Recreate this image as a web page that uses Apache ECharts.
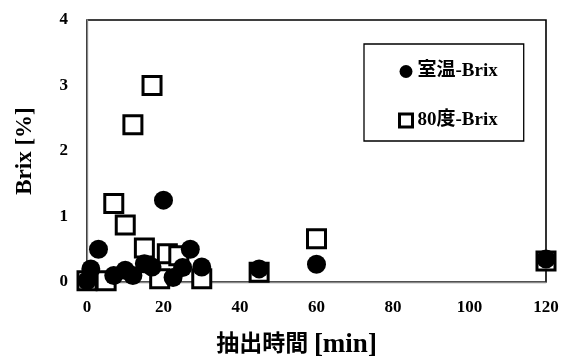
<!DOCTYPE html>
<html><head><meta charset="utf-8">
<script src="https://cdn.jsdelivr.net/npm/echarts@6/dist/echarts.min.js"></script>
<style>html,body{margin:0;padding:0;background:#fff}#c{width:562px;height:358px}</style>
</head><body><div id="c"></div>
<script>
const xTicks = [0, 20, 40, 60, 80, 100, 120];
const yTicks = [0, 1, 2, 3, 4];
const roomTime = [0, 1, 3, 7, 10, 12, 15, 17, 20, 22.5, 25, 27, 30, 45, 60, 120];
const roomBrix = [0.02, 0.2, 0.5, 0.1, 0.18, 0.1, 0.28, 0.23, 1.25, 0.07, 0.22, 0.5, 0.23, 0.2, 0.27, 0.35];
const hotTime = [0, 5, 7, 10, 12, 15, 17, 19, 21, 24, 30, 45, 60, 120];
const hotBrix = [0.02, 0.02, 1.2, 0.87, 2.4, 0.52, 3.0, 0.05, 0.43, 0.4, 0.05, 0.15, 0.66, 0.32];
const seriesNames = ['室温-Brix', '80度-Brix'];

const serif = '"Liberation Serif", "Times New Roman", "Noto Sans CJK JP", serif';
const pairs = (xs, ys) => xs.map((x, i) => [x, ys[i]]);

const chart = echarts.init(document.getElementById('c'), null, {renderer: 'canvas'});
chart.setOption({
  animation: false,
  textStyle: {fontFamily: serif},
  grid: {left: 87, right: 16, top: 20, bottom: 76, outerBoundsMode: 'none', containLabel: false,
         show: true, borderColor: '#000', borderWidth: 1.6, backgroundColor: 'transparent'},
  legend: {
    orient: 'vertical',
    left: 364, top: 44,
    width: 162,
    padding: [18, 26, 11, 34],
    itemGap: 30,
    itemWidth: 13, itemHeight: 13,
    borderColor: '#000', borderWidth: 1.3,
    textStyle: {fontFamily: serif, fontWeight: 'bold', fontSize: 19, color: '#000'},
    data: [
      {name: seriesNames[0], icon: 'circle', itemStyle: {color: '#000', borderWidth: 0}},
      {name: seriesNames[1], icon: 'rect', itemStyle: {color: '#fff', borderColor: '#000', borderWidth: 3}}
    ]
  },
  xAxis: {
    type: 'value', min: 0, max: 120, interval: 20,
    name: '{a|抽出時間} {b|[min]}', nameLocation: 'middle', nameGap: 50,
    nameTextStyle: {
      fontFamily: serif, fontWeight: 'bold', fontSize: 23, color: '#000', padding: [0, 40, 0, 0],
      rich: {
        a: {fontFamily: serif, fontWeight: 'bold', fontSize: 23, color: '#000'},
        b: {fontFamily: serif, fontWeight: 'bold', fontSize: 27, color: '#000'}
      }
    },
    axisLine: {show: true, onZero: false, lineStyle: {color: '#888', width: 1.3}},
    axisTick: {show: false}, splitLine: {show: false},
    axisLabel: {margin: 17, fontFamily: serif, fontWeight: 'bold', fontSize: 17, color: '#000'}
  },
  yAxis: {
    type: 'value', min: 0, max: 4, interval: 1,
    name: 'Brix [%]', nameLocation: 'middle', nameGap: 50,
    nameTextStyle: {fontFamily: serif, fontWeight: 'bold', fontSize: 23, color: '#000'},
    axisLine: {show: true, onZero: false, lineStyle: {color: '#888', width: 1.3}},
    axisTick: {show: false}, splitLine: {show: false},
    axisLabel: {margin: 19, fontFamily: serif, fontWeight: 'bold', fontSize: 17, color: '#000'}
  },
  series: [
    {
      name: seriesNames[1], type: 'scatter', symbol: 'rect', symbolSize: 18, z: 2,
      itemStyle: {color: '#fff', borderColor: '#000', borderWidth: 3, opacity: 1},
      data: pairs(hotTime, hotBrix)
    },
    {
      name: seriesNames[0], type: 'scatter', symbol: 'circle', symbolSize: 19, z: 3,
      itemStyle: {color: '#000', opacity: 1},
      data: pairs(roomTime, roomBrix)
    }
  ]
});
</script></body></html>
